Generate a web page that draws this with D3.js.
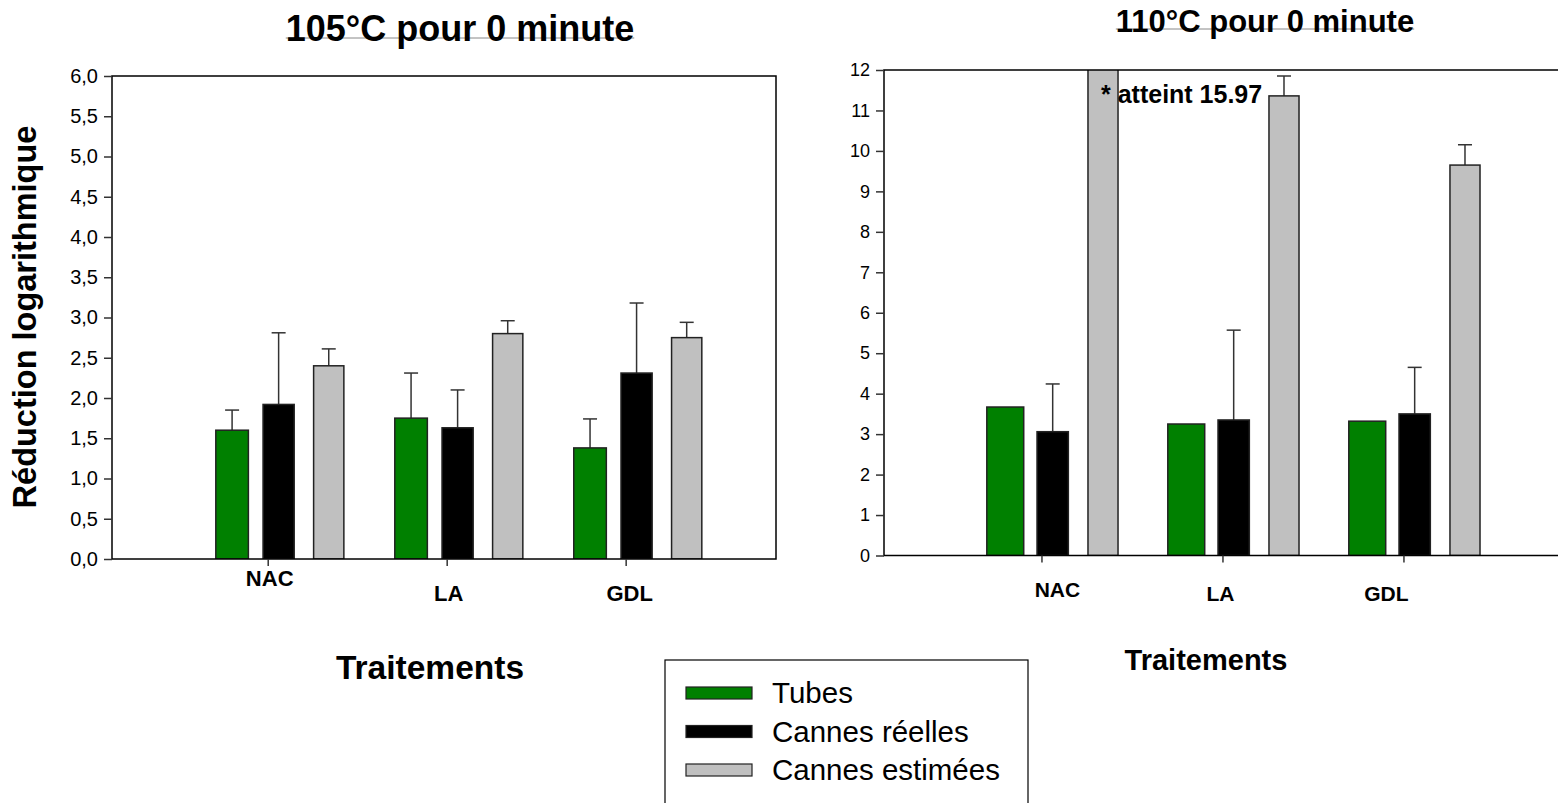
<!DOCTYPE html>
<html>
<head>
<meta charset="utf-8">
<script src="https://cdn.jsdelivr.net/npm/d3@7"></script>
<style>
  html, body { margin: 0; padding: 0; background: #ffffff; }
  svg { display: block; }
  text { font-family: "Liberation Sans", Arial, Helvetica, sans-serif; fill: #000; }
</style>
</head>
<body>
<svg id="chart" width="1558" height="803"></svg>
<script>
// ---- data ----
const categories = ["NAC", "LA", "GDL"];
const seriesNames = ["Tubes", "Cannes réelles", "Cannes estimées"];
const seriesColors = ["#008000", "#000000", "#c0c0c0"];

// 105 °C pour 0 minute : moyennes et écarts (barre d'erreur supérieure)
const tubes105 = [1.60, 1.75, 1.38];
const tubes105Err = [0.25, 0.56, 0.36];
const cannesReelles105 = [1.92, 1.63, 2.31];
const cannesReelles105Err = [0.89, 0.47, 0.87];
const cannesEstimees105 = [2.40, 2.80, 2.75];
const cannesEstimees105Err = [0.21, 0.16, 0.19];

// 110 °C pour 0 minute
const tubes110 = [3.67, 3.25, 3.32];
const tubes110Err = [null, null, null];
const cannesReelles110 = [3.06, 3.35, 3.50];
const cannesReelles110Err = [1.18, 2.22, 1.15];
const cannesEstimees110 = [15.97, 11.36, 9.65];
const cannesEstimees110Err = [null, 0.49, 0.50];

const ticks105 = [0, 0.5, 1, 1.5, 2, 2.5, 3, 3.5, 4, 4.5, 5, 5.5, 6];
const ticks110 = [0, 1, 2, 3, 4, 5, 6, 7, 8, 9, 10, 11, 12];

const svg = d3.select("#chart");
const FONT = '"Liberation Sans", Arial, Helvetica, sans-serif';

function drawPanel(cfg) {
  const g = svg.append("g");
  const x = d3.scaleLinear().domain([0.13, cfg.xMax]).range([cfg.left, cfg.right]);
  const y = d3.scaleLinear().domain([0, cfg.yMax]).range([cfg.bottom, cfg.top]);
  const unit = x(1) - x(0);

  const clipId = "clip-" + cfg.id;
  svg.append("clipPath").attr("id", clipId)
    .append("rect")
    .attr("x", cfg.left).attr("y", cfg.top)
    .attr("width", cfg.right - cfg.left).attr("height", cfg.bottom - cfg.top);

  const rows = [];
  cfg.values.forEach((vals, s) => {
    vals.forEach((v, i) => {
      rows.push({ s, i, v, e: cfg.errors[s][i] });
    });
  });

  const plot = g.append("g").attr("clip-path", `url(#${clipId})`);
  const cx = d => x(d.i + 1 + cfg.offsets[d.s]);

  // error bars (upper only), drawn behind the bars
  const errRows = rows.filter(d => d.e != null);
  plot.selectAll("line.err").data(errRows).join("line")
    .attr("class", "err")
    .attr("x1", cx).attr("x2", cx)
    .attr("y1", d => y(d.v)).attr("y2", d => y(d.v + d.e))
    .attr("stroke", "#333").attr("stroke-width", 1.5);
  plot.selectAll("line.cap").data(errRows).join("line")
    .attr("class", "cap")
    .attr("x1", d => cx(d) - cfg.cap / 2).attr("x2", d => cx(d) + cfg.cap / 2)
    .attr("y1", d => y(d.v + d.e)).attr("y2", d => y(d.v + d.e))
    .attr("stroke", "#333").attr("stroke-width", 1.5);

  plot.selectAll("rect.bar").data(rows).join("rect")
    .attr("class", "bar")
    .attr("x", d => cx(d) - cfg.widths[d.s] * unit / 2)
    .attr("width", d => cfg.widths[d.s] * unit)
    .attr("y", d => y(d.v))
    .attr("height", d => y(0) - y(d.v))
    .attr("fill", d => seriesColors[d.s])
    .attr("stroke", "#222").attr("stroke-width", 1.5);

  // frame
  g.append("rect")
    .attr("x", cfg.left).attr("y", cfg.top)
    .attr("width", cfg.right - cfg.left).attr("height", cfg.bottom - cfg.top)
    .attr("fill", "none").attr("stroke", "#000").attr("stroke-width", 1.5);

  // y axis
  const yAxis = d3.axisLeft(y).tickValues(cfg.ticks).tickSize(8).tickPadding(6)
    .tickFormat(cfg.tickFormat);
  const ya = g.append("g").attr("transform", `translate(${cfg.left},0)`).call(yAxis);
  ya.select(".domain").remove();
  ya.selectAll(".tick line").attr("stroke", "#333").attr("stroke-width", 1.5);
  ya.selectAll(".tick text").attr("font-size", cfg.tickFont).attr("font-family", FONT).attr("fill", "#111");

  // x axis: tick marks at each treatment
  const xAxis = d3.axisBottom(x).tickValues([1, 2, 3]).tickSize(7).tickFormat("");
  const xa = g.append("g").attr("transform", `translate(0,${cfg.bottom})`).call(xAxis);
  xa.select(".domain").remove();
  xa.selectAll(".tick line").attr("stroke", "#333").attr("stroke-width", 1.5);

  // treatment labels
  g.selectAll("text.cat").data(categories).join("text")
    .attr("class", "cat")
    .attr("x", (c, i) => x(i + 1) + cfg.catDx[i])
    .attr("y", (c, i) => cfg.catY[i])
    .attr("text-anchor", "middle")
    .attr("font-weight", "bold")
    .attr("font-size", cfg.catFont)
    .text(c => c);

  // panel title, with its thin rule behind it
  const rule = g.append("line")
    .attr("stroke", "#888").attr("stroke-width", 1);
  const title = g.append("text")
    .attr("x", cfg.titleX).attr("y", cfg.titleY)
    .attr("text-anchor", "middle").attr("font-weight", "bold")
    .attr("font-size", cfg.titleFont)
    .text(cfg.title);
  const tw = title.node().getComputedTextLength();
  rule.attr("x1", cfg.titleX - tw / 2).attr("x2", cfg.titleX + tw / 2)
    .attr("y1", cfg.titleY - 3).attr("y2", cfg.titleY - 3);

  // x axis title
  g.append("text")
    .attr("x", cfg.xTitleX).attr("y", cfg.xTitleY)
    .attr("text-anchor", "middle").attr("font-weight", "bold")
    .attr("font-size", cfg.xTitleFont)
    .text("Traitements");

  return { x, y };
}

const fmtComma = d => d3.format(".1f")(d).replace(".", ",");

drawPanel({
  id: "p105", title: "105°C pour 0 minute",
  left: 112, right: 776, xMax: 3.84, top: 76, bottom: 559, yMax: 6,
  ticks: ticks105, tickFormat: fmtComma, tickFont: 20,
  values: [tubes105, cannesReelles105, cannesEstimees105],
  errors: [tubes105Err, cannesReelles105Err, cannesEstimees105Err],
  offsets: [-0.199, 0.061, 0.341], widths: [0.182, 0.174, 0.169], cap: 14,
  catDx: [2, 2, 4], catY: [586, 601, 601], catFont: 22,
  titleX: 460, titleY: 41, titleFont: 36,
  xTitleX: 430, xTitleY: 679, xTitleFont: 33.5
});

const p110 = drawPanel({
  id: "p110", title: "110°C pour 0 minute",
  left: 884, right: 1562, xMax: 3.876, top: 70, bottom: 555.5, yMax: 12,
  ticks: ticks110, tickFormat: d3.format("d"), tickFont: 18,
  values: [tubes110, cannesReelles110, cannesEstimees110],
  errors: [tubes110Err, cannesReelles110Err, cannesEstimees110Err],
  offsets: [-0.200, 0.062, 0.340], widths: [0.204, 0.173, 0.166], cap: 14,
  catDx: [16, -2, -17], catY: [597, 601, 601], catFont: 21,
  titleX: 1265, titleY: 32, titleFont: 31,
  xTitleX: 1206, xTitleY: 670, xTitleFont: 29
});

// note on the clipped estimated bar
svg.append("text")
  .attr("x", p110.x(1 + 0.340) - 2)
  .attr("y", 103)
  .attr("font-weight", "bold").attr("font-size", 25)
  .text("* atteint " + d3.format(".2f")(cannesEstimees110[0]));

// shared y axis title
svg.append("text")
  .attr("transform", "translate(36,317) rotate(-90)")
  .attr("text-anchor", "middle").attr("font-weight", "bold")
  .attr("font-size", 32.5)
  .text("Réduction logarithmique");

// legend
const legend = svg.append("g").attr("transform", "translate(665,660)");
legend.append("rect")
  .attr("x", 0).attr("y", 0).attr("width", 363).attr("height", 160)
  .attr("fill", "#fff").attr("stroke", "#000").attr("stroke-width", 1.2);
const items = legend.selectAll("g.item").data(seriesNames).join("g")
  .attr("class", "item")
  .attr("transform", (d, i) => `translate(0,${33 + i * 38.5})`);
items.append("rect")
  .attr("x", 21).attr("y", -6).attr("width", 66).attr("height", 12)
  .attr("fill", (d, i) => seriesColors[i]).attr("stroke", "#222").attr("stroke-width", 1.2);
items.append("text")
  .attr("x", 107).attr("y", 10)
  .attr("font-size", 29.5)
  .text(d => d);
</script>
</body>
</html>
